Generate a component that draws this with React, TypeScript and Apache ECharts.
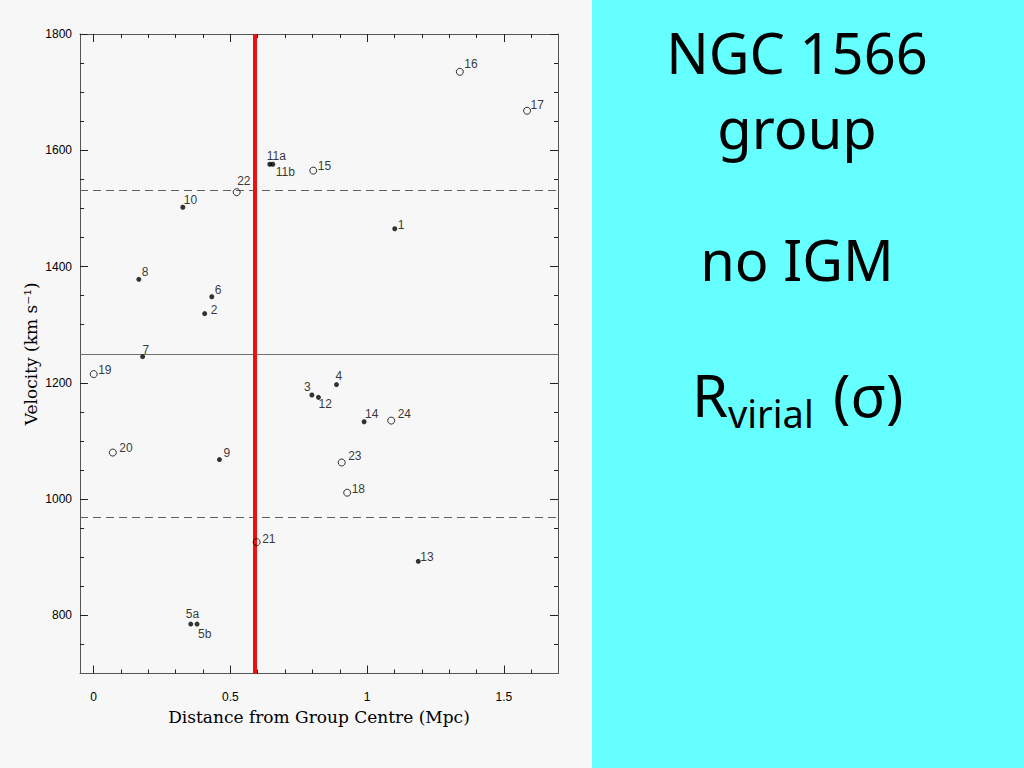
import React, { useEffect, useRef } from "react";
import * as echarts from "echarts";

// ---- data ----
const FILLED_NAMES = ["1", "2", "3", "4", "5a", "5b", "6", "7", "8", "9", "10", "11a", "11b", "12", "13", "14"];
const FILLED_DIST = [1.101, 0.406, 0.798, 0.888, 0.355, 0.378, 0.432, 0.179, 0.165, 0.46, 0.326, 0.644, 0.655, 0.822, 1.187, 0.989];
const FILLED_VEL = [1465, 1319, 1179, 1197, 785, 785, 1348, 1245, 1378, 1068, 1502, 1576, 1576, 1175, 893, 1133];

const OPEN_NAMES = ["15", "16", "17", "18", "19", "20", "21", "22", "23", "24"];
const OPEN_DIST = [0.803, 1.339, 1.585, 0.927, 0.0, 0.07, 0.596, 0.523, 0.907, 1.088];
const OPEN_VEL = [1565, 1735, 1668, 1011, 1215, 1080, 926, 1528, 1063, 1135];

const MEAN_VELOCITY = 1250;
const SIGMA_UPPER = 1532;
const SIGMA_LOWER = 968;
const R_VIRIAL = 0.59;

const X_MIN = -0.05;
const X_MAX = 1.698;
const Y_MIN = 700;
const Y_MAX = 1800;

const X_MAJOR_TICKS = [0, 0.5, 1, 1.5];
const X_MINOR_TICKS = [0.1, 0.2, 0.3, 0.4, 0.6, 0.7, 0.8, 0.9, 1.1, 1.2, 1.3, 1.4, 1.6];
const Y_MAJOR_TICKS = [800, 1000, 1200, 1400, 1600, 1800];
const Y_MINOR_TICKS = [750, 850, 900, 950, 1050, 1100, 1150, 1250, 1300, 1350, 1450, 1500, 1550, 1650, 1700, 1750];

const X_NAME = "Distance from Group Centre (Mpc)";
const Y_NAME = "Velocity (km s\u207B\u00B9)";

// label placement (style), keyed by point name: [dx, dy] of label left/middle from point centre
const LABEL_OFFSETS: Record<string, [number, number]> = {
  "1": [3, -4], "2": [6, -4], "3": [-8, -8], "4": [-1, -9], "5a": [-5, -10], "5b": [1, 10],
  "6": [3, -7], "7": [0, -7], "8": [3, -7], "9": [4, -7], "10": [1, -7], "11a": [-3, -8],
  "11b": [3, 8], "12": [0, 7], "13": [2, -4], "14": [1, -8], "15": [4, -5], "16": [4, -8],
  "17": [3, -6], "18": [4, -4], "19": [4, -4], "20": [6, -5], "21": [5, -3], "22": [0, -11],
  "23": [6, -6], "24": [6, -7],
};

const AXIS_COLOR = "#555555";
const LABEL_FONT = "Liberation Sans";
const NAME_FONT = "DejaVu Serif";
const PANEL_FONT = "Noto Sans";
const FILLED_SIZE = 5;
const OPEN_SIZE = 7;

function buildPoints(names: string[], xs: number[], ys: number[], size: number) {
  return names.map((n, i) => {
    const off = LABEL_OFFSETS[n] || [4, -6];
    return {
      name: n,
      value: [xs[i], ys[i]],
      label: {
        offset: [off[0] - size / 2, off[1]],
      },
    };
  });
}

const pointLabel = {
  show: true,
  formatter: (p: any) => p.name,
  position: "right",
  distance: 0,
  align: "left",
  verticalAlign: "middle",
  color: "#000000",
  textBorderWidth: 0,
  fontSize: 12,
  fontFamily: LABEL_FONT,
};

const plainNumber = (v: number) => String(v);

function xAxisDef(position: "bottom" | "top", ticks: number[], len: number, showLine: boolean, showLabel: boolean, withName: boolean) {
  return {
    type: "value",
    position,
    min: X_MIN,
    max: X_MAX,
    gridIndex: 0,
    name: withName ? X_NAME : "",
    nameLocation: "middle",
    nameGap: 35,
    nameTextStyle: { fontFamily: NAME_FONT, fontSize: 17, color: "#000" },
    axisLine: { show: showLine, onZero: false, lineStyle: { color: AXIS_COLOR, width: 1 } },
    axisTick: { show: true, inside: true, length: len, customValues: ticks, lineStyle: { color: "#222", width: 1 } },
    axisLabel: {
      show: showLabel,
      customValues: ticks,
      margin: 17,
      color: "#000",
      fontSize: 12,
      fontFamily: LABEL_FONT,
      formatter: plainNumber,
    },
    splitLine: { show: false },
    minorTick: { show: false },
  };
}

function yAxisDef(position: "left" | "right", ticks: number[], len: number, showLine: boolean, showLabel: boolean, withName: boolean) {
  return {
    type: "value",
    position,
    min: Y_MIN,
    max: Y_MAX,
    gridIndex: 0,
    name: withName ? Y_NAME : "",
    nameLocation: "middle",
    nameGap: 41,
    nameTextStyle: { fontFamily: NAME_FONT, fontSize: 17, color: "#000" },
    axisLine: { show: showLine, onZero: false, lineStyle: { color: AXIS_COLOR, width: 1 } },
    axisTick: { show: true, inside: true, length: len, customValues: ticks, lineStyle: { color: "#222", width: 1 } },
    axisLabel: {
      show: showLabel,
      customValues: ticks,
      margin: 8,
      color: "#000",
      fontSize: 12,
      fontFamily: LABEL_FONT,
      formatter: plainNumber,
    },
    splitLine: { show: false },
    minorTick: { show: false },
  };
}

export default function App() {
  const ref = useRef<HTMLDivElement>(null);

  useEffect(() => {
    if (!ref.current) return;
    const chart = echarts.init(ref.current, undefined, { renderer: "svg" });

    const option: any = {
      animation: false,
      backgroundColor: "#f7f7f7",
      color: ["#000000", "#000000", "#000000"],
      grid: { left: 80, top: 34, right: 466, bottom: 94.5, containLabel: false },
      xAxis: [
        xAxisDef("bottom", X_MAJOR_TICKS, 8, true, true, true),
        xAxisDef("bottom", X_MINOR_TICKS, 4, false, false, false),
        xAxisDef("top", X_MAJOR_TICKS, 8, true, false, false),
        xAxisDef("top", X_MINOR_TICKS, 4, false, false, false),
      ],
      yAxis: [
        yAxisDef("left", Y_MAJOR_TICKS, 8, true, true, true),
        yAxisDef("left", Y_MINOR_TICKS, 4, false, false, false),
        yAxisDef("right", Y_MAJOR_TICKS, 8, true, false, false),
        yAxisDef("right", Y_MINOR_TICKS, 4, false, false, false),
      ],
      graphic: [
        { type: "rect", z: -10, silent: true, shape: { x: 592, y: 0, width: 432, height: 768 }, style: { fill: "#66ffff" } },
        { type: "text", x: 797, y: 52, style: { text: "NGC 1566", fontSize: 56, fontFamily: PANEL_FONT, fill: "#000", align: "center", verticalAlign: "middle" } },
        { type: "text", x: 797, y: 127, style: { text: "group", fontSize: 56, fontFamily: PANEL_FONT, fill: "#000", align: "center", verticalAlign: "middle" } },
        { type: "text", x: 797, y: 259, style: { text: "no IGM", fontSize: 56, fontFamily: PANEL_FONT, fill: "#000", align: "center", verticalAlign: "middle" } },
        { type: "text", x: 692, y: 394, style: { text: "R", fontSize: 58, fontFamily: PANEL_FONT, fill: "#000", align: "left", verticalAlign: "middle" } },
        { type: "text", x: 728, y: 413, style: { text: "virial", fontSize: 38, fontFamily: PANEL_FONT, fill: "#000", align: "left", verticalAlign: "middle" } },
        { type: "text", x: 833, y: 394, style: { text: "(\u03C3)", fontSize: 58, fontFamily: PANEL_FONT, fill: "#000", align: "left", verticalAlign: "middle" } },
      ],
      series: [
        {
          type: "line",
          xAxisIndex: 0,
          yAxisIndex: 0,
          data: [],
          silent: true,
          markLine: {
            silent: true,
            symbol: ["none", "none"],
            label: { show: false },
            animation: false,
            data: [
              { yAxis: MEAN_VELOCITY, lineStyle: { color: "#707070", width: 1, type: "solid" } },
              { yAxis: SIGMA_UPPER, lineStyle: { color: "#606060", width: 1, type: [8, 5] } },
              { yAxis: SIGMA_LOWER, lineStyle: { color: "#606060", width: 1, type: [8, 5] } },
              { xAxis: R_VIRIAL, lineStyle: { color: "#ee1111", width: 4, type: "solid" } },
            ],
          },
        },
        {
          name: "filled",
          type: "scatter",
          xAxisIndex: 0,
          yAxisIndex: 0,
          symbol: "circle",
          symbolSize: FILLED_SIZE,
          itemStyle: { color: "#000000" },
          label: pointLabel,
          data: buildPoints(FILLED_NAMES, FILLED_DIST, FILLED_VEL, FILLED_SIZE),
          z: 5,
        },
        {
          name: "open",
          type: "scatter",
          xAxisIndex: 0,
          yAxisIndex: 0,
          symbol: "circle",
          symbolSize: OPEN_SIZE,
          itemStyle: { color: "rgba(0,0,0,0)", borderColor: "#000000", borderWidth: 1 },
          label: pointLabel,
          data: buildPoints(OPEN_NAMES, OPEN_DIST, OPEN_VEL, OPEN_SIZE),
          z: 5,
        },
      ],
    };

    chart.setOption(option);
    return () => chart.dispose();
  }, []);

  return (
    <div
      ref={ref}
      style={{ position: "absolute", left: 0, top: 0, width: 1024, height: 768 }}
    />
  );
}
